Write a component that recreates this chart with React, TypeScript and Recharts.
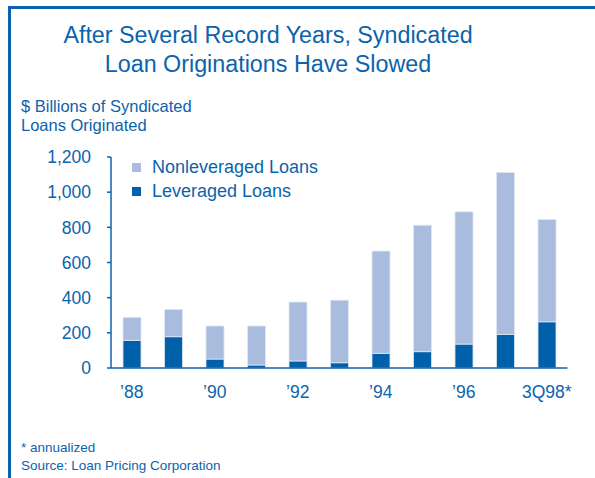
import { BarChart, Bar, XAxis, YAxis, Legend } from "recharts";

const CATEGORIES = ["’88", "’89", "’90", "’91", "’92", "’93", "’94", "’95", "’96", "’97", "3Q98*"];
const LEVERAGED = [157, 178, 51, 17, 40, 30, 83, 93, 136, 191, 263];
const NONLEVERAGED = [131, 155, 188, 222, 335, 356, 582, 719, 752, 921, 582];
const Y_TICKS = [0, 200, 400, 600, 800, 1000, 1200];
// band edges for the little tick marks between the bars
const EDGE_TICKS = [0, 1, 2, 3, 4, 5, 6, 7, 8, 9, 10, 11];
const LEGEND_ORDER = ["Nonleveraged Loans", "Leveraged Loans"];

const BLUE = "#0b63ad";
const DARK_BAR = "#0061aa";
const LIGHT_BAR = "#aabcde";
const FONT = '"Liberation Sans", Arial, sans-serif';

const data = CATEGORIES.map((year, i) => ({
  year,
  leveraged: LEVERAGED[i],
  nonleveraged: NONLEVERAGED[i],
}));

const renderLegend = (props: any) => {
  const items = [...(props.payload || [])].sort(
    (a: any, b: any) => LEGEND_ORDER.indexOf(a.value) - LEGEND_ORDER.indexOf(b.value)
  );
  return (
    <div style={{ fontFamily: FONT, fontSize: 18, color: BLUE }}>
      {items.map((it: any) => (
        <div key={it.value} style={{ display: "flex", alignItems: "center", height: 24 }}>
          <span style={{ display: "inline-block", width: 9, height: 9, background: it.color, marginRight: 11 }} />
          <span>{it.value}</span>
        </div>
      ))}
    </div>
  );
};

export default function App() {
  return (
    <div style={{ position: "absolute", left: 0, top: 0, width: 595, height: 478, background: "#fff", fontFamily: FONT, color: BLUE }}>
      <div style={{ position: "absolute", left: 8, top: 6, right: 0, bottom: 0, borderTop: `3px solid ${BLUE}`, borderLeft: `3px solid ${BLUE}` }} />
      <div style={{ position: "absolute", left: 0, top: 21, width: 536, textAlign: "center", fontSize: 23.3, lineHeight: "28.5px" }}>
        After Several Record Years, Syndicated
        <br />
        Loan Originations Have Slowed
      </div>
      <div style={{ position: "absolute", left: 21, top: 97, fontSize: 16.5, lineHeight: "18.5px" }}>
        $ Billions of Syndicated
        <br />
        Loans Originated
      </div>
      <div style={{ position: "absolute", left: 21, top: 439, fontSize: 13.5, lineHeight: "18px" }}>
        * annualized
        <br />
        Source: Loan Pricing Corporation
      </div>
      <div style={{ position: "absolute", left: 0, top: 0 }}>
        <BarChart width={595} height={478} data={data} margin={{ top: 157, right: 27.5, bottom: 80, left: 51 }}>
          <XAxis
            xAxisId="edges"
            type="number"
            domain={[0, CATEGORIES.length]}
            ticks={EDGE_TICKS}
            allowDataOverflow
            height={0}
            tick={false}
            axisLine={false}
            tickSize={4}
            tickLine={{ stroke: BLUE, strokeWidth: 1.5 }}
          />
          <XAxis
            xAxisId="cat"
            dataKey="year"
            height={30}
            interval={1}
            tickLine={false}
            tickSize={4}
            tickMargin={14}
            axisLine={{ stroke: BLUE, strokeWidth: 1.5 }}
            tick={{ fill: BLUE, fontSize: 17.5, fontFamily: FONT }}
          />
          <YAxis
            width={60}
            domain={[0, 1200]}
            ticks={Y_TICKS}
            interval={0}
            tickSize={4}
            tickMargin={16}
            tickFormatter={(v: number) => v.toLocaleString("en-US")}
            axisLine={{ stroke: BLUE, strokeWidth: 1.5 }}
            tickLine={{ stroke: BLUE, strokeWidth: 1.5 }}
            tick={{ fill: BLUE, fontSize: 17.5, fontFamily: FONT }}
          />
          <Legend
            layout="vertical"
            align="center"
            verticalAlign="middle"
            content={renderLegend}
            wrapperStyle={{ left: 132, top: 155, width: "auto" }}
          />
          <Bar
            xAxisId="cat"
            dataKey="leveraged"
            name="Leveraged Loans"
            stackId="a"
            fill={DARK_BAR}
            stroke="#dfe6f3"
            strokeWidth={0.8}
            barSize={18}
            isAnimationActive={false}
          />
          <Bar
            xAxisId="cat"
            dataKey="nonleveraged"
            name="Nonleveraged Loans"
            stackId="a"
            fill={LIGHT_BAR}
            stroke="#dfe6f3"
            strokeWidth={0.8}
            barSize={18}
            isAnimationActive={false}
          />
        </BarChart>
      </div>
    </div>
  );
}
